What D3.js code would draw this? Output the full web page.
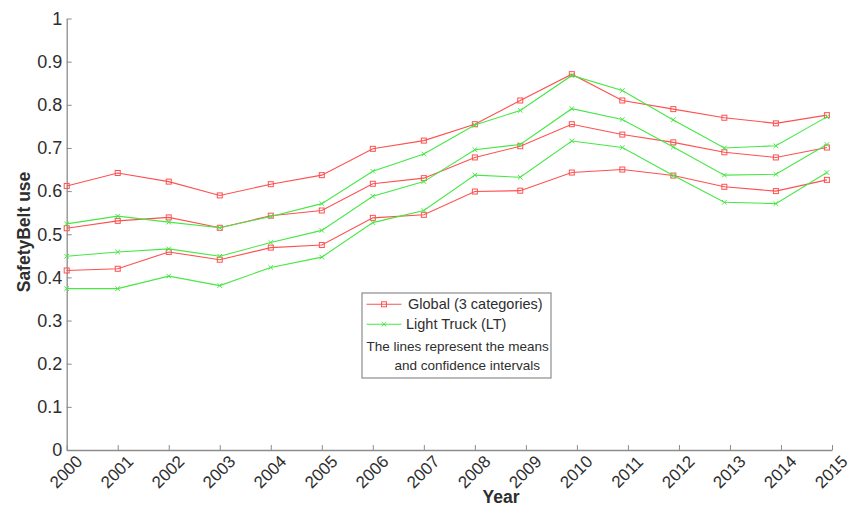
<!DOCTYPE html>
<html>
<head>
<meta charset="utf-8">
<script src="https://cdn.jsdelivr.net/npm/d3@7/dist/d3.min.js"></script>
<style>
  html, body { margin: 0; padding: 0; background: #fff; }
  svg { display: block; font-family: "Liberation Sans", Arial, Helvetica, sans-serif; }
</style>
</head>
<body>
<svg id="chart" width="851" height="506"></svg>
<script>
// Survey years (sampling dates drift slightly after 2008)
const years = [2000, 2001, 2002, 2003, 2004, 2005, 2006, 2007, 2008,
               2008.89, 2009.9, 2010.89, 2011.89, 2012.89, 2013.9, 2014.9];

// Global (3 categories): mean and confidence bounds
const globalUpper = [0.612, 0.642, 0.622, 0.590, 0.616, 0.637, 0.698, 0.717, 0.755, 0.810, 0.871, 0.810, 0.790, 0.770, 0.757, 0.776];
const globalMean  = [0.514, 0.531, 0.539, 0.515, 0.543, 0.555, 0.617, 0.630, 0.678, 0.704, 0.755, 0.731, 0.713, 0.690, 0.678, 0.701];
const globalLower = [0.416, 0.420, 0.459, 0.441, 0.469, 0.475, 0.538, 0.545, 0.599, 0.601, 0.643, 0.650, 0.636, 0.610, 0.600, 0.626];

// Light Truck (LT): mean and confidence bounds
const truckUpper = [0.524, 0.542, 0.528, 0.515, 0.541, 0.571, 0.646, 0.686, 0.753, 0.787, 0.868, 0.833, 0.765, 0.700, 0.705, 0.772];
const truckMean  = [0.449, 0.459, 0.466, 0.449, 0.481, 0.509, 0.588, 0.622, 0.696, 0.708, 0.791, 0.766, 0.702, 0.637, 0.639, 0.708];
const truckLower = [0.374, 0.374, 0.403, 0.381, 0.423, 0.447, 0.527, 0.555, 0.637, 0.632, 0.716, 0.701, 0.636, 0.574, 0.571, 0.643];

const xTicks = d3.range(2000, 2016);
const yTicks = d3.range(0, 11).map(d => d / 10);

const legendLabels = ["Global (3 categories)", "Light Truck (LT)"];
const noteLines = ["The lines represent the means", "and confidence intervals"];

const RED = "#ff5050";
const GREEN = "#45e845";
const AXIS = "#8c8c8c";
const TEXT = "#2e2e2e";

const svg = d3.select("#chart");
const x = d3.scaleLinear().domain([2000, 2015]).range([66.7, 832]);
const y = d3.scaleLinear().domain([0, 1]).range([450, 18.5]);

// Axes
const xAxis = svg.append("g")
  .attr("transform", `translate(0,${y(0)})`)
  .call(d3.axisBottom(x).tickValues(xTicks).tickSizeInner(-5).tickSizeOuter(0).tickFormat(d3.format("d")));
xAxis.select(".domain").attr("stroke", AXIS).attr("stroke-width", 1.3);
xAxis.selectAll(".tick line").attr("stroke", AXIS);
xAxis.selectAll(".tick text")
  .attr("fill", TEXT)
  .attr("font-size", 17)
  .attr("text-anchor", "middle")
  .attr("dominant-baseline", "central")
  .attr("dy", null)
  .attr("y", null)
  .attr("transform", "translate(-1,22) rotate(-45)");

const yAxis = svg.append("g")
  .attr("transform", `translate(${x(2000)},0)`)
  .call(d3.axisLeft(y).tickValues(yTicks).tickSizeInner(-5).tickSizeOuter(0).tickFormat(d => d3.format("")(+d.toFixed(1))));
yAxis.select(".domain").attr("stroke", AXIS).attr("stroke-width", 1.3);
yAxis.selectAll(".tick line").attr("stroke", AXIS);
yAxis.selectAll(".tick text")
  .attr("fill", TEXT)
  .attr("font-size", 18)
  .attr("x", -4.5);

// Axis titles
svg.append("text")
  .attr("x", 501).attr("y", 503)
  .attr("text-anchor", "middle")
  .attr("font-size", 17.5).attr("font-weight", "bold").attr("fill", TEXT)
  .text("Year");
svg.append("text")
  .attr("transform", "translate(30,232) rotate(-90)")
  .attr("text-anchor", "middle")
  .attr("font-size", 17.5).attr("font-weight", "bold").attr("fill", TEXT)
  .text("SafetyBelt use");

// Series
const line = d3.line().x(d => x(d[0])).y(d => y(d[1]));

function drawSeries(values, color, marker) {
  const pts = years.map((yr, i) => [yr, values[i]]);
  const g = svg.append("g");
  g.append("path")
    .attr("d", line(pts))
    .attr("fill", "none")
    .attr("stroke", color)
    .attr("stroke-width", 1.1);
  if (marker === "square") {
    g.selectAll("rect").data(pts).join("rect")
      .attr("x", d => x(d[0]) - 2.5).attr("y", d => y(d[1]) - 2.5)
      .attr("width", 5).attr("height", 5)
      .attr("fill", "none").attr("stroke", color).attr("stroke-width", 1);
  } else {
    g.selectAll("path.m").data(pts).join("path")
      .attr("class", "m")
      .attr("d", d => {
        const cx = x(d[0]), cy = y(d[1]), r = 2.3;
        return `M${cx - r},${cy - r}L${cx + r},${cy + r}M${cx - r},${cy + r}L${cx + r},${cy - r}`;
      })
      .attr("stroke", color).attr("stroke-width", 1);
  }
}

[globalUpper, globalMean, globalLower].forEach(v => drawSeries(v, RED, "square"));
[truckUpper, truckMean, truckLower].forEach(v => drawSeries(v, GREEN, "x"));

// Legend
const lg = svg.append("g");
lg.append("rect")
  .attr("x", 362).attr("y", 293).attr("width", 189).attr("height", 85)
  .attr("fill", "#fff").attr("stroke", AXIS).attr("stroke-width", 1.2);

const rows = [
  { label: legendLabels[0], color: RED, marker: "square", cy: 304.3, tx: 408 },
  { label: legendLabels[1], color: GREEN, marker: "x", cy: 324.3, tx: 406 }
];
rows.forEach(r => {
  lg.append("line")
    .attr("x1", 366.5).attr("x2", 401.5).attr("y1", r.cy).attr("y2", r.cy)
    .attr("stroke", r.color).attr("stroke-width", 1.1);
  const cx = 384;
  if (r.marker === "square") {
    lg.append("rect").attr("x", cx - 2.5).attr("y", r.cy - 2.5).attr("width", 5).attr("height", 5)
      .attr("fill", "none").attr("stroke", r.color);
  } else {
    lg.append("path")
      .attr("d", `M${cx - 2.3},${r.cy - 2.3}L${cx + 2.3},${r.cy + 2.3}M${cx - 2.3},${r.cy + 2.3}L${cx + 2.3},${r.cy - 2.3}`)
      .attr("stroke", r.color);
  }
  lg.append("text")
    .attr("x", r.tx).attr("y", r.cy)
    .attr("dominant-baseline", "central")
    .attr("font-size", 14.5).attr("fill", TEXT)
    .text(r.label);
});
lg.append("text")
  .attr("x", 366.5).attr("y", 346)
  .attr("dominant-baseline", "central")
  .attr("font-size", 13.5).attr("fill", TEXT)
  .text(noteLines[0]);
lg.append("text")
  .attr("x", 394.5).attr("y", 365)
  .attr("dominant-baseline", "central")
  .attr("font-size", 13.5).attr("fill", TEXT)
  .text(noteLines[1]);
</script>
</body>
</html>
